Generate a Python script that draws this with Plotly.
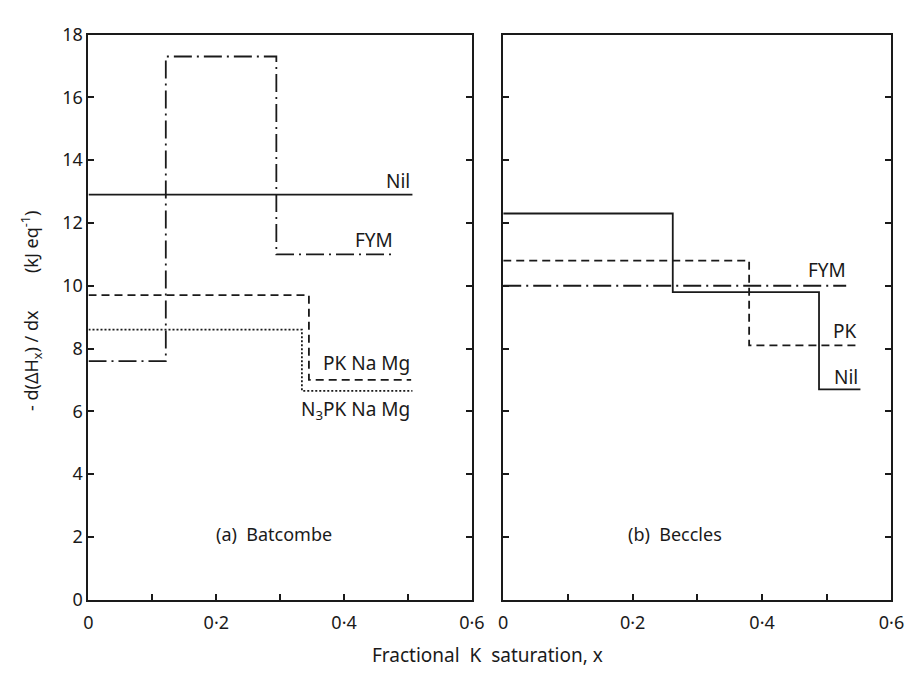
import plotly.graph_objects as go

# ---------- data ----------
# (a) Batcombe : step functions, x = left edge of each step (last point = end of line)
bat_nil_x = [0.0, 0.507]
bat_nil_y = [12.9, 12.9]
bat_fym_x = [0.0, 0.121, 0.294, 0.476]
bat_fym_y = [7.6, 17.3, 11.0, 11.0]
bat_pk_x = [0.0, 0.345, 0.505]
bat_pk_y = [9.7, 7.0, 7.0]
bat_n3_x = [0.0, 0.334, 0.507]
bat_n3_y = [8.6, 6.65, 6.65]

# (b) Beccles
bec_nil_x = [0.0, 0.262, 0.488, 0.552]
bec_nil_y = [12.3, 9.8, 6.7, 6.7]
bec_pk_x = [0.0, 0.380, 0.549]
bec_pk_y = [10.8, 8.1, 8.1]
bec_fym_x = [0.0, 0.530]
bec_fym_y = [10.0, 10.0]

x_tickvals = [0, 0.1, 0.2, 0.3, 0.4, 0.5, 0.6]
x_ticktext = ["0", "", "0·2", "", "0·4", "", "0·6"]
y_tickvals = [0, 2, 4, 6, 8, 10, 12, 14, 16, 18]
y_ticktext = ["0", "2", "4", "6", "8", "10", "12", "14", "16", "18"]

# ---------- styling ----------
INK = "#1a1a1a"
FONT = "Noto Sans"
W, H = 921, 679
OFF = 8  # page body margin offset in the screenshot


def px_x(p):
    return (p - OFF) / W


def px_y(p):
    return 1 - (p - OFF) / H


STYLE_SOLID = "solid"
STYLE_DASH = "8px,5px"
STYLE_DOT = "2px,2px"
STYLE_DASHDOT = "18px,5px,2px,5px"

fig = go.Figure()


def step(x, y, dash, xa, ya, width=1.8):
    fig.add_trace(go.Scatter(
        x=x, y=y, mode="lines", line_shape="hv",
        line=dict(color=INK, width=width, dash=dash),
        xaxis=xa, yaxis=ya, showlegend=False, hoverinfo="skip"))


step(bat_nil_x, bat_nil_y, STYLE_SOLID, "x", "y")
step(bat_fym_x, bat_fym_y, STYLE_DASHDOT, "x", "y")
step(bat_pk_x, bat_pk_y, STYLE_DASH, "x", "y")
step(bat_n3_x, bat_n3_y, STYLE_DOT, "x", "y")

step(bec_nil_x, bec_nil_y, STYLE_SOLID, "x2", "y2")
step(bec_pk_x, bec_pk_y, STYLE_DASH, "x2", "y2")
step(bec_fym_x, bec_fym_y, STYLE_DASHDOT, "x2", "y2")

ytop = px_y(22)
ybot = px_y(608)

axis_common = dict(
    range=[0, 0.6], showline=True, linecolor=INK, linewidth=2, mirror=True,
    ticks="inside", ticklen=6, tickwidth=1.5, tickcolor=INK,
    tickvals=x_tickvals, ticktext=x_ticktext, showgrid=False, zeroline=False,
    ticklabelstandoff=6,
    tickfont=dict(family=FONT, size=18, color=INK),
)
yaxis_common = dict(
    range=[0, 18], showline=True, linecolor=INK, linewidth=2, mirror="allticks",
    ticks="inside", ticklen=6, tickwidth=1.5, tickcolor=INK,
    tickvals=y_tickvals, ticktext=y_ticktext, showgrid=False, zeroline=False,
    tickfont=dict(family=FONT, size=18, color=INK),
)

fig.update_layout(
    width=W, height=H,
    margin=dict(l=0, r=0, t=0, b=0),
    paper_bgcolor="white", plot_bgcolor="white",
    xaxis=dict(domain=[px_x(85), px_x(476)], anchor="y", **axis_common),
    yaxis=dict(domain=[ybot, ytop], anchor="x", **yaxis_common),
    xaxis2=dict(domain=[px_x(508), px_x(904)], anchor="y2", **axis_common),
    yaxis2=dict(domain=[ybot, ytop], anchor="x2", showticklabels=False, **yaxis_common),
)


def lab(text, x, y, xa, ya, xanchor="right", size=19):
    fig.add_annotation(text=text, x=x, y=y, xref=xa, yref=ya, showarrow=False,
                       xanchor=xanchor, yanchor="middle",
                       font=dict(family=FONT, size=size, color=INK))


# series labels - (a)
lab("Nil", 0.507, 13.35, "x", "y")
lab("FYM", 0.48, 11.45, "x", "y")
lab("PK Na Mg", 0.507, 7.55, "x", "y")
lab("N<sub>3</sub>PK Na Mg", 0.507, 6.05, "x", "y")
# series labels - (b)
lab("FYM", 0.533, 10.5, "x2", "y2")
lab("PK", 0.548, 8.57, "x2", "y2")
lab("Nil", 0.552, 7.1, "x2", "y2")

# panel labels
lab("(a)  Batcombe", 0.29, 2.1, "x", "y", xanchor="center", size=18)
lab("(b)  Beccles", 0.265, 2.1, "x2", "y2", xanchor="center", size=18)

# axis titles
fig.add_annotation(text="Fractional  K  saturation, x", x=px_x(492), y=px_y(665),
                   xref="paper", yref="paper", showarrow=False,
                   xanchor="center", yanchor="middle",
                   font=dict(family=FONT, size=19, color=INK))
fig.add_annotation(text="- d(ΔH<sub>x</sub>) / dx        (kJ eq<sup>-1</sup>)",
                   x=px_x(27), y=px_y(309), xref="paper", yref="paper",
                   showarrow=False, textangle=-90, xanchor="center", yanchor="middle",
                   font=dict(family=FONT, size=18, color=INK))

fig.write_html("out.html")
